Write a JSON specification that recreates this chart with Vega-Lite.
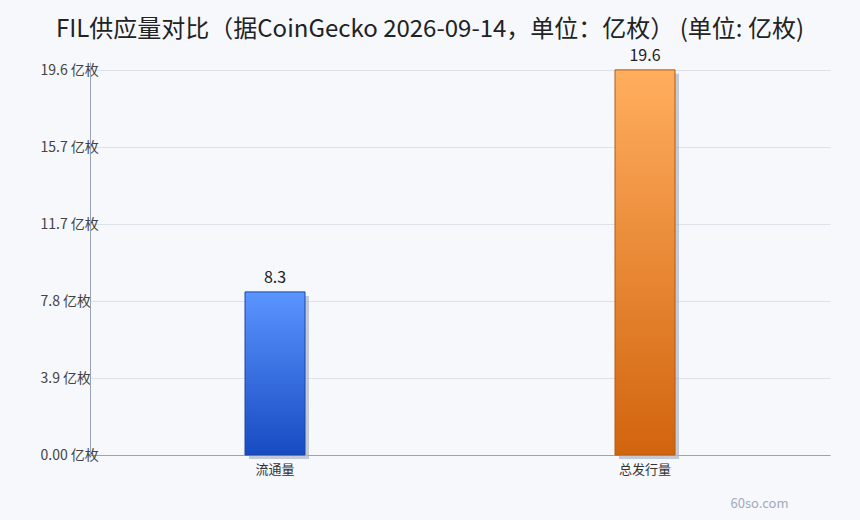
{
  "$schema": "https://vega.github.io/schema/vega-lite/v6.json",
  "autosize": {"type": "none"},
  "width": 740,
  "height": 393,
  "padding": {"left": 90, "top": 62, "right": 30, "bottom": 65},
  "background": "#f6f8fc",
  "title": {
    "text": "FIL供应量对比（据CoinGecko 2026-09-14，单位：亿枚） (单位: 亿枚)",
    "font": "Noto Sans CJK SC",
    "fontSize": 24,
    "fontWeight": "normal",
    "color": "#222222",
    "anchor": "middle",
    "dx": -30,
    "offset": 6
  },
  "config": {
    "font": "Noto Sans CJK SC",
    "view": {"stroke": null}
  },
  "data": {
    "values": [
      {"category": "流通量", "value": 8.3},
      {"category": "总发行量", "value": 19.6}
    ]
  },
  "encoding": {
    "x": {
      "field": "category",
      "type": "nominal",
      "sort": null,
      "scale": {"paddingInner": 0, "paddingOuter": 0},
      "axis": {
        "title": "60so.com",
        "titleFont": "Noto Sans CJK SC",
        "titleFontSize": 13,
        "titleFontWeight": "normal",
        "titleColor": "#a3aaba",
        "titleAlign": "left",
        "titleBaseline": "middle",
        "titleAnchor": "start",
        "titleX": 640,
        "titleY": 48,
        "labelAngle": 0,
        "labelFontSize": 13,
        "labelColor": "#333333",
        "labelPadding": 8,
        "ticks": false,
        "grid": false,
        "domainColor": "#9aa3b5",
        "domainWidth": 1
      }
    },
    "y": {
      "field": "value",
      "type": "quantitative",
      "scale": {"domain": [0, 20], "nice": false},
      "axis": {
        "title": null,
        "values": [0, 3.916, 7.832, 11.748, 15.664, 19.58],
        "labelExpr": "datum.value == 0 ? '0.00 亿枚' : format(datum.value, '.1f') + ' 亿枚'",
        "labelAlign": "left",
        "labelPadding": 50,
        "labelFontSize": 14,
        "labelColor": "#444444",
        "ticks": false,
        "tickSize": 0,
        "grid": true,
        "gridColor": "#dde1ea",
        "domainColor": "#9aa3b5",
        "domainWidth": 1
      }
    }
  },
  "layer": [
    {
      "mark": {"type": "bar", "size": 60, "color": "#aeb5c4", "opacity": 0.7, "xOffset": 4, "yOffset": 4, "y2Offset": 2}
    },
    {
      "transform": [{"filter": "datum.category == '流通量'"}],
      "mark": {
        "type": "bar",
        "size": 60,
        "stroke": "#1c46a8",
        "strokeWidth": 1,
        "color": {
          "gradient": "linear", "x1": 0, "y1": 0, "x2": 0, "y2": 1,
          "stops": [{"offset": 0, "color": "#5a95ff"}, {"offset": 1, "color": "#184bc2"}]
        }
      }
    },
    {
      "transform": [{"filter": "datum.category == '总发行量'"}],
      "mark": {
        "type": "bar",
        "size": 60,
        "stroke": "#b35a12",
        "strokeWidth": 1,
        "color": {
          "gradient": "linear", "x1": 0, "y1": 0, "x2": 0, "y2": 1,
          "stops": [{"offset": 0, "color": "#ffae5e"}, {"offset": 1, "color": "#d2640e"}]
        }
      }
    },
    {
      "mark": {"type": "text", "baseline": "bottom", "dy": -6, "fontSize": 16, "color": "#222222"},
      "encoding": {"text": {"field": "value", "type": "quantitative", "format": ".1f"}}
    }
  ]
}
